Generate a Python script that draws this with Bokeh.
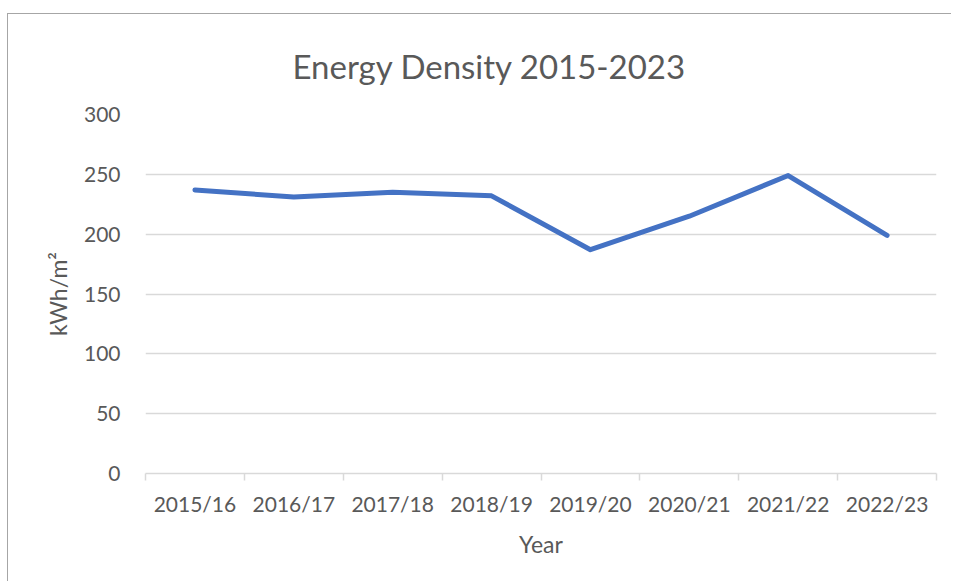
from bokeh.plotting import figure
from bokeh.models import FactorRange, Range1d, LinearAxis, CategoricalAxis, FixedTicker
from bokeh.embed import file_html
from bokeh.resources import INLINE

years = ["2015/16", "2016/17", "2017/18", "2018/19", "2019/20", "2020/21", "2021/22", "2022/23"]
density = [237, 231, 235, 232, 187, 215, 249, 199]
y_ticks = [0, 50, 100, 150, 200, 250, 300]
title_text = "Energy Density 2015-2023"

FONT = "Lato"
GREY = "#595959"
GRID = "#d9d9d9"

p = figure(
    x_range=FactorRange(*years),
    y_range=Range1d(0, 300),
    width=944, height=568,
    output_backend="svg", toolbar_location=None,
    x_axis_location=None,
    min_border_left=137, min_border_right=16, min_border_top=98, min_border_bottom=109,
)
p.styles = {"margin-top": "13px", "margin-left": "7px",
            "border-top": "1px solid #a6a6a6", "border-left": "1px solid #a6a6a6"}
p.outline_line_color = None

# chart title, centred on the whole chart area (as in the original)
p.title.text = title_text
p.title.align = "left"
p.title.offset = 147
p.title.standoff = 58
p.title.text_font = FONT
p.title.text_font_size = "33px"
p.title.text_font_style = "normal"
p.title.text_color = GREY

# y axis
ya = p.yaxis[0]
ya.ticker = FixedTicker(ticks=y_ticks)
ya.axis_line_color = None
ya.major_tick_line_color = None
ya.minor_tick_line_color = None
ya.major_label_text_font = FONT
ya.major_label_text_font_size = "21px"
ya.major_label_text_color = GREY
ya.major_label_standoff = 19
ya.axis_label = "kWh/m²"
ya.axis_label_text_font = FONT
ya.axis_label_text_font_size = "23px"
ya.axis_label_text_font_style = "normal"
ya.axis_label_text_color = GREY
ya.axis_label_standoff = 9

p.ygrid.ticker = FixedTicker(ticks=y_ticks)
p.ygrid.grid_line_color = GRID
p.ygrid.grid_line_width = 1.5
p.xgrid.grid_line_color = None

# boundary tick axis (ticks between categories, in synthetic coordinates)
edges = list(range(len(years) + 1))
ea = LinearAxis(ticker=FixedTicker(ticks=edges),
                major_label_overrides={e: "" for e in edges})
ea.axis_line_color = GRID
ea.axis_line_width = 1.5
ea.major_tick_line_color = GRID
ea.major_tick_line_width = 1.5
ea.major_tick_out = 7
ea.major_tick_in = 0
ea.minor_tick_line_color = None
ea.major_label_text_font_size = "1px"
ea.major_label_standoff = 0
p.add_layout(ea, "below")

ca = CategoricalAxis()
ca.axis_line_color = None
ca.major_tick_line_color = None
ca.major_label_text_font = FONT
ca.major_label_text_font_size = "21px"
ca.major_label_text_color = GREY
ca.major_label_standoff = 4
ca.axis_label = "Year"
ca.axis_label_text_font = FONT
ca.axis_label_text_font_size = "23px"
ca.axis_label_text_font_style = "normal"
ca.axis_label_text_color = GREY
ca.axis_label_standoff = 11
p.add_layout(ca, "below")

p.line(years, density, line_color="#4472C4", line_width=5,
       line_cap="round", line_join="round")

open("out.html", "w").write(file_html(p, INLINE))
